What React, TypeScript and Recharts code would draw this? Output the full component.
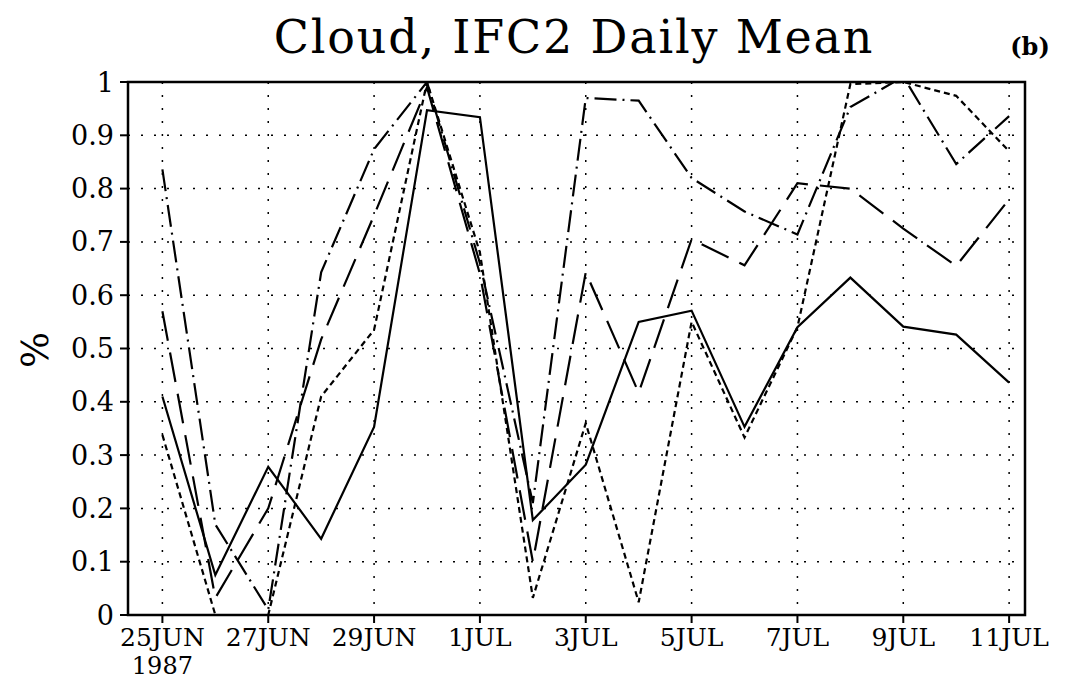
import React from 'react';
import { CartesianGrid, Line, LineChart, ReferenceArea, XAxis, YAxis } from 'recharts';

// daily means, 25 JUN .. 11 JUL 1987
const days = [
    '25JUN', '26JUN', '27JUN', '28JUN', '29JUN', '30JUN', '1JUL', '2JUL', '3JUL',
    '4JUL', '5JUL', '6JUL', '7JUL', '8JUL', '9JUL', '10JUL', '11JUL',
];
const solidSeries = [0.41, 0.075, 0.278, 0.143, 0.353, 0.947, 0.934, 0.178, 0.282, 0.55, 0.571, 0.353, 0.54, 0.633, 0.541, 0.526, 0.436];
const dottedSeries = [0.338, 0.0, 0.0, 0.41, 0.535, 1.0, 0.68, 0.032, 0.36, 0.024, 0.55, 0.333, 0.54, 0.996, 1.0, 0.974, 0.87];
const dashedSeries = [0.57, 0.032, 0.2, 0.517, 0.75, 0.99, 0.64, 0.1, 0.643, 0.417, 0.705, 0.656, 0.81, 0.8, 0.725, 0.655, 0.78];
const dashDotSeries = [0.836, 0.17, 0.01, 0.643, 0.874, 1.0, 0.66, 0.21, 0.97, 0.965, 0.82, 0.757, 0.714, 0.953, 1.01, 0.846, 0.936];

const xTicks = [0, 2, 4, 6, 8, 10, 12, 14, 16];
const yTicks = [0, 0.1, 0.2, 0.3, 0.4, 0.5, 0.6, 0.7, 0.8, 0.9, 1];
const yearLabel = '1987';
const title = 'Cloud, IFC2 Daily Mean';
const panelLabel = '(b)';
const yLabel = '%';

const data = days.map((day, i) => ({
    i,
    day,
    solid: solidSeries[i],
    dotted: dottedSeries[i],
    dashed: dashedSeries[i],
    dashDot: dashDotSeries[i],
}));

const FONT = '"DejaVu Serif", serif';
const X_DOMAIN: [number, number] = [-0.65, 16.3];

function DayTick(props: any) {
    const { x, y, payload } = props;
    return (
        <g>
            <text x={x} y={y + 21} textAnchor="middle" fontFamily={FONT} fontSize={25} fill="#000">
                {days[payload.value]}
            </text>
            {payload.value === 0 && (
                <text x={x} y={y + 49} textAnchor="middle" fontFamily={FONT} fontSize={24} fill="#000">
                    {yearLabel}
                </text>
            )}
        </g>
    );
}

export default function App() {
    return (
        <div style={{ position: 'absolute', left: 0, top: 0, width: 1067, height: 698, background: '#fff' }}>
            <LineChart
                width={1067}
                height={698}
                data={data}
                margin={{ top: 82, right: 42, bottom: 23, left: 68 }}
            >
                <CartesianGrid stroke="#000" strokeWidth={1.5} strokeDasharray="2 11" />
                <XAxis
                    dataKey="i"
                    type="number"
                    domain={X_DOMAIN}
                    ticks={xTicks}
                    height={60}
                    axisLine={false}
                    tickLine={{ stroke: '#000', strokeWidth: 2 }}
                    tickSize={8}
                    tick={<DayTick />}
                    interval={0}
                />
                <YAxis
                    type="number"
                    domain={[0, 1]}
                    allowDataOverflow
                    ticks={yTicks}
                    width={60}
                    axisLine={false}
                    tickLine={{ stroke: '#000', strokeWidth: 2 }}
                    tickSize={8}
                    tickMargin={6}
                    interval={0}
                    tickFormatter={(v: number) => String(Math.round(v * 10) / 10)}
                    tick={{ fontFamily: FONT, fontSize: 27, fill: '#000' }}
                />
                <ReferenceArea
                    x1={X_DOMAIN[0]}
                    x2={X_DOMAIN[1]}
                    y1={0}
                    y2={1}
                    fill="none"
                    fillOpacity={0}
                    stroke="#000"
                    strokeWidth={2.5}
                    ifOverflow="visible"
                />
                <Line type="linear" dataKey="solid" stroke="#000" strokeWidth={2.2} dot={false} isAnimationActive={false} />
                <Line type="linear" dataKey="dotted" stroke="#000" strokeWidth={2.2} strokeDasharray="6 4" dot={false} isAnimationActive={false} />
                <Line type="linear" dataKey="dashed" stroke="#000" strokeWidth={2.2} strokeDasharray="30 12" dot={false} isAnimationActive={false} />
                <Line type="linear" dataKey="dashDot" stroke="#000" strokeWidth={2.2} strokeDasharray="22 6 2 6" dot={false} isAnimationActive={false} />
            </LineChart>
            <svg width={1067} height={698} style={{ position: 'absolute', left: 0, top: 0, pointerEvents: 'none' }}>
                <text x={574} y={53} textAnchor="middle" fontFamily={FONT} fontSize={46} letterSpacing={1.8} fill="#000">
                    {title}
                </text>
                <text x={1030} y={55} textAnchor="middle" fontFamily={FONT} fontSize={24} fontWeight="bold" fill="#000">
                    {panelLabel}
                </text>
                <text x={48} y={350} textAnchor="middle" fontFamily={FONT} fontSize={38} fill="#000" transform="rotate(-90 48 350)">
                    {yLabel}
                </text>
            </svg>
        </div>
    );
}
